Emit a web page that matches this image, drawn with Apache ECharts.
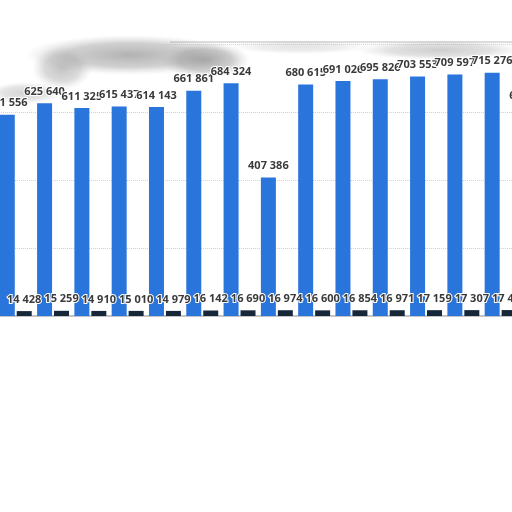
<!DOCTYPE html>
<html>
<head>
<meta charset="utf-8">
<script src="https://cdn.jsdelivr.net/npm/echarts@6/dist/echarts.min.js"></script>
<style>
  html, body { margin: 0; padding: 0; background: #fff; }
  #chart { width: 512px; height: 512px; }
</style>
</head>
<body>
<div id="chart"></div>
<script>
// period labels are cropped out of the picture, so they stay hidden
const categories = ['1', '2', '3', '4', '5', '6', '7', '8', '9', '10', '11', '12', '13', '14', '15'];
const blueValues = [591556, 625640, 611325, 615437, 614143, 661861, 684324, 407386,
  680615, 691026, 695826, 703553, 709597, 715276, 612400];
const darkValues = [14428, 15259, 14910, 15010, 14979, 16142, 16690, 16974,
  16600, 16854, 16971, 17159, 17307, 17452, null];
const yTicks = { min: 0, max: 800000, interval: 200000 };

const chart = echarts.init(document.getElementById('chart'));

function fmt(p) {
  return String(p.value).replace(/\B(?=(\d{3})+(?!\d))/g, ' ');
}

// soft grey blob: a gradient circle stretched into an ellipse
function blob(cx, cy, rx, ry, a) {
  return {
    type: 'circle', z: 1,
    x: cx, y: cy, scaleX: rx / 10, scaleY: ry / 10,
    shape: { cx: 0, cy: 0, r: 10 },
    style: {
      fill: new echarts.graphic.RadialGradient(0.5, 0.5, 0.5, [
        { offset: 0, color: 'rgba(145,145,145,' + a + ')' },
        { offset: 0.6, color: 'rgba(160,160,160,' + (a * 0.7) + ')' },
        { offset: 1, color: 'rgba(190,190,190,0)' }
      ])
    }
  };
}

const labelStyle = {
  show: true,
  position: 'top',
  distance: 6,
  formatter: fmt,
  color: '#3a3a3a',
  fontSize: 11,
  fontWeight: 'bold',
  fontFamily: 'Open Sans',
  textBorderColor: '#fff',
  textBorderWidth: 2
};

var option = {
  backgroundColor: '#fff',
  animation: false,
  grid: {
    left: -2.9,
    width: 559.5,
    top: 43.8,
    bottom: 196,
    outerBoundsMode: 'none'
  },
  xAxis: {
    type: 'category',
    data: categories,
    axisTick: { show: false },
    axisLabel: { show: false },
    axisLine: { lineStyle: { color: '#c4c4c4', width: 2 } }
  },
  yAxis: {
    type: 'value',
    min: yTicks.min,
    max: yTicks.max,
    interval: yTicks.interval,
    axisLabel: { show: false },
    axisLine: { show: false },
    axisTick: { show: false },
    splitLine: { lineStyle: { color: '#cfcfcf', type: 'dotted', width: 1 } }
  },
  graphic: [
    // torn paper edge and its grey smudge
    {
      type: 'rect', z: 1,
      shape: { x: -20, y: 0, width: 560, height: 41 },
      style: { fill: '#fff' }
    },
    {
      type: 'polygon', z: 1,
      shape: { points: [[-10, 0], [180, 0], [180, 44], [120, 46], [60, 52], [40, 70], [40, 88], [0, 100], [-10, 100]] },
      style: { fill: '#fff' }
    },
    {
      type: 'line', z: 1,
      shape: { x1: 170, y1: 42, x2: 512, y2: 42 },
      style: { stroke: '#bcbcbc', lineWidth: 1.2 }
    },
    blob(130, 55, 105, 20, 0.7),
    blob(205, 60, 45, 18, 0.75),
    blob(62, 68, 30, 22, 0.55),
    blob(25, 93, 38, 11, 0.4),
    blob(300, 47, 70, 7, 0.25),
    blob(440, 50, 85, 10, 0.45)
  ],
  series: [
    {
      name: 'Series A',
      type: 'bar',
      z: 3,
      data: blueValues,
      barWidth: 15,
      barGap: '13%',
      itemStyle: { color: '#2a75db' },
      label: labelStyle
    },
    {
      name: 'Series B',
      type: 'bar',
      z: 3,
      data: darkValues,
      barWidth: 15,
      itemStyle: { color: '#17273a' },
      label: labelStyle
    }
  ]
};

chart.setOption(option);
</script>
</body>
</html>
